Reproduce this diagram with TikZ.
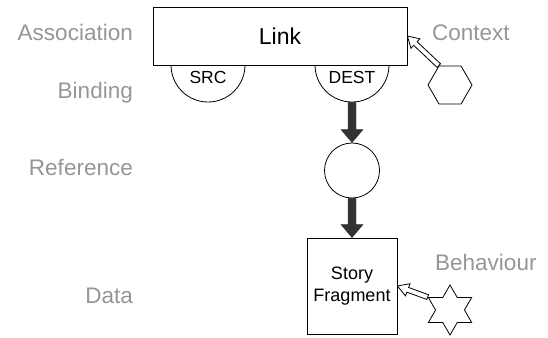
\documentclass[tikz,border=0pt]{standalone}
\usepackage{fontspec}
\setmainfont{Liberation Sans}
\usetikzlibrary{calc,shapes.geometric}
\definecolor{lblgray}{RGB}{150,150,150}
\definecolor{arrdark}{RGB}{51,51,51}
% #1 style, #2 tail, #3 tip, #4 shaft half width, #5 head half width, #6 head length
\newcommand{\fatarrow}[6]{%
  \path ($(#3)!#6!(#2)$) coordinate (fabase);
  \draw[#1] ($(#2)!#4!90:(#3)$) -- ($(fabase)!#4!90:(#3)$) -- ($(fabase)!#5!90:(#3)$)
    -- (#3) -- ($(fabase)!#5!-90:(#3)$) -- ($(fabase)!#4!-90:(#3)$) -- ($(#2)!#4!-90:(#3)$) -- cycle;
}
\begin{document}
\begin{tikzpicture}[x=1pt,y=-1pt,
  lbl/.style={font=\fontsize{22.5}{27}\selectfont, text=lblgray, inner sep=0},
  shape line/.style={draw=black, line width=0.8pt},
  small/.style={font=\fontsize{17.5}{21}\selectfont, inner sep=0},
  thickarrow/.style={fill=arrdark, draw=arrdark, line width=0.4pt},
  hollowarrow/.style={fill=white, draw=black, line width=0.8pt}]
\useasboundingbox (0,0) rectangle (548,337);
% binding circles (half hidden behind the link box)
\node[circle, shape line, minimum size=74pt, inner sep=0] (srcc) at (208,65) {};
\node[circle, shape line, minimum size=74pt, inner sep=0] (destc) at (352,65) {};
\node[shape line, fill=white, minimum width=254pt, minimum height=58pt, inner sep=0,
      font=\fontsize{23}{27}\selectfont] (link) at (280,36) {Link};
\node[small, anchor=base] (srclbl) at (208,83) {SRC};
\node[small, anchor=base] (destlbl) at (352,83) {DEST};
% reference
\node[circle, shape line, minimum size=55pt, inner sep=0] (refc) at (352,170.5) {};
% data
\node[shape line, minimum width=90pt, minimum height=96pt, inner sep=0, align=center,
      font=\fontsize{18}{22}\selectfont] (story) at (352,286) {\raisebox{-2pt}{Story}\\\raisebox{-2pt}{Fragment}};
% context hexagon and behaviour star
\node[regular polygon, regular polygon sides=6, shape line, minimum size=44pt, inner sep=0] (hex) at (450,85) {};
\node[star, star points=6, star point ratio=1.73, shape line, minimum size=50pt, inner sep=0] (star) at (450,310) {};
% arrows
\fatarrow{thickarrow}{destc.south}{refc.north}{4pt}{11pt}{13pt}
\fatarrow{thickarrow}{refc.south}{story.north}{4pt}{11pt}{13pt}
\fatarrow{hollowarrow}{hex.120}{link.east}{2.5pt}{6.5pt}{11pt}
\fatarrow{hollowarrow}{star.150}{story.east}{2.5pt}{6.5pt}{11pt}
% labels
\node[lbl, anchor=base east] (assoc) at (133,41) {Association};
\node[lbl, anchor=base east] (bind) at (133,98) {Binding};
\node[lbl, anchor=base east] (refl) at (133,175) {Reference};
\node[lbl, anchor=base east] (datal) at (133,303) {Data};
\node[lbl, anchor=base west] (ctx) at (432,41) {Context};
\node[lbl, anchor=base west] (beh) at (435,270) {Behaviour};
\end{tikzpicture}
\end{document}
